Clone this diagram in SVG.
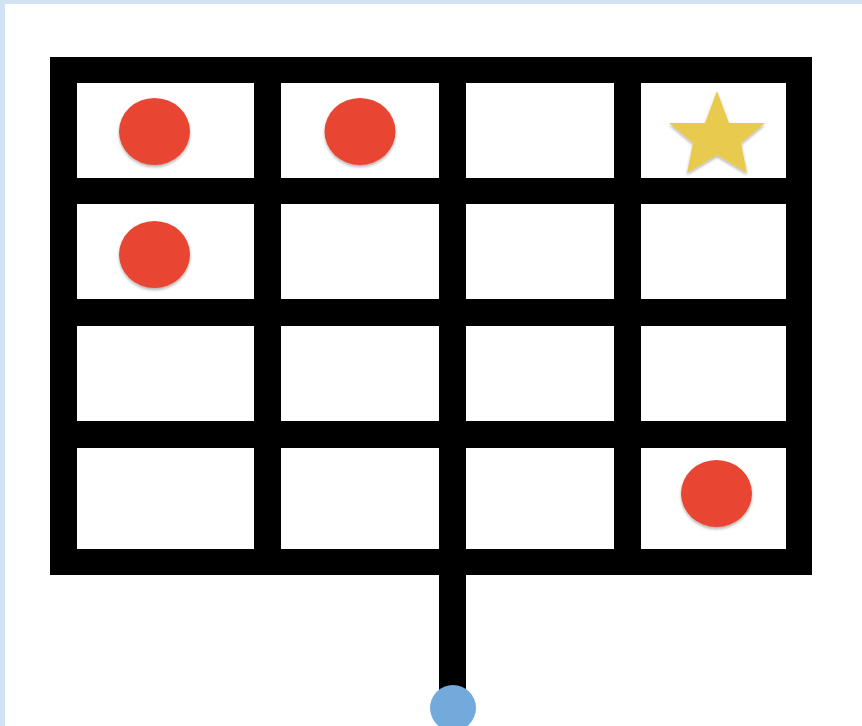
<svg xmlns="http://www.w3.org/2000/svg" width="862" height="726" viewBox="0 0 862 726">
  <defs>
    <filter id="shadow" x="-30%" y="-30%" width="160%" height="160%">
      <feDropShadow dx="0" dy="2" stdDeviation="1.5" flood-color="#000" flood-opacity="0.3"/>
    </filter>
    <style>
      .cell { fill: #ffffff; }
      .dot { fill: #e84533; filter: url(#shadow); }
      .star { fill: #e8ca4f; filter: url(#shadow); }
      .bar { fill: #000000; }
    </style>
  </defs>
  <rect x="0" y="0" width="862" height="726" fill="#d0e2f3"/>
  <rect x="5" y="4" width="857" height="722" fill="#ffffff"/>

  <g id="grid">
    <rect class="bar" x="50" y="57" width="762" height="518"/>
    <rect class="cell" x="77" y="83" width="177" height="95"/>
    <rect class="cell" x="281" y="83" width="158" height="95"/>
    <rect class="cell" x="466" y="83" width="148" height="95"/>
    <rect class="cell" x="641" y="83" width="145" height="95"/>
    <rect class="cell" x="77" y="204" width="177" height="95"/>
    <rect class="cell" x="281" y="204" width="158" height="95"/>
    <rect class="cell" x="466" y="204" width="148" height="95"/>
    <rect class="cell" x="641" y="204" width="145" height="95"/>
    <rect class="cell" x="77" y="326" width="177" height="95"/>
    <rect class="cell" x="281" y="326" width="158" height="95"/>
    <rect class="cell" x="466" y="326" width="148" height="95"/>
    <rect class="cell" x="641" y="326" width="145" height="95"/>
    <rect class="cell" x="77" y="448" width="177" height="101"/>
    <rect class="cell" x="281" y="448" width="158" height="101"/>
    <rect class="cell" x="466" y="448" width="148" height="101"/>
    <rect class="cell" x="641" y="448" width="145" height="101"/>
  </g>

  <g id="connectors">
    <rect class="bar" x="439" y="575" width="27" height="132"/>
  </g>

  <g id="dot-r1c1"><ellipse class="dot" cx="154.5" cy="131.5" rx="35.5" ry="33.5"/></g>
  <g id="dot-r1c2"><ellipse class="dot" cx="360" cy="131.5" rx="35.5" ry="33.5"/></g>
  <g id="dot-r2c1"><ellipse class="dot" cx="154.5" cy="254.5" rx="35.5" ry="33.5"/></g>
  <g id="dot-r4c4"><ellipse class="dot" cx="716.5" cy="493.5" rx="35.5" ry="33.5"/></g>
  <g id="star-r1c4">
    <polygon class="star" points="717,91 729,123 765,123 741,143 747,173 717,155 687,173 693,143 669,123 705,123"/>
  </g>
  <g id="start">
    <circle cx="453" cy="708" r="23" fill="#72aadb"/>
  </g>
</svg>
